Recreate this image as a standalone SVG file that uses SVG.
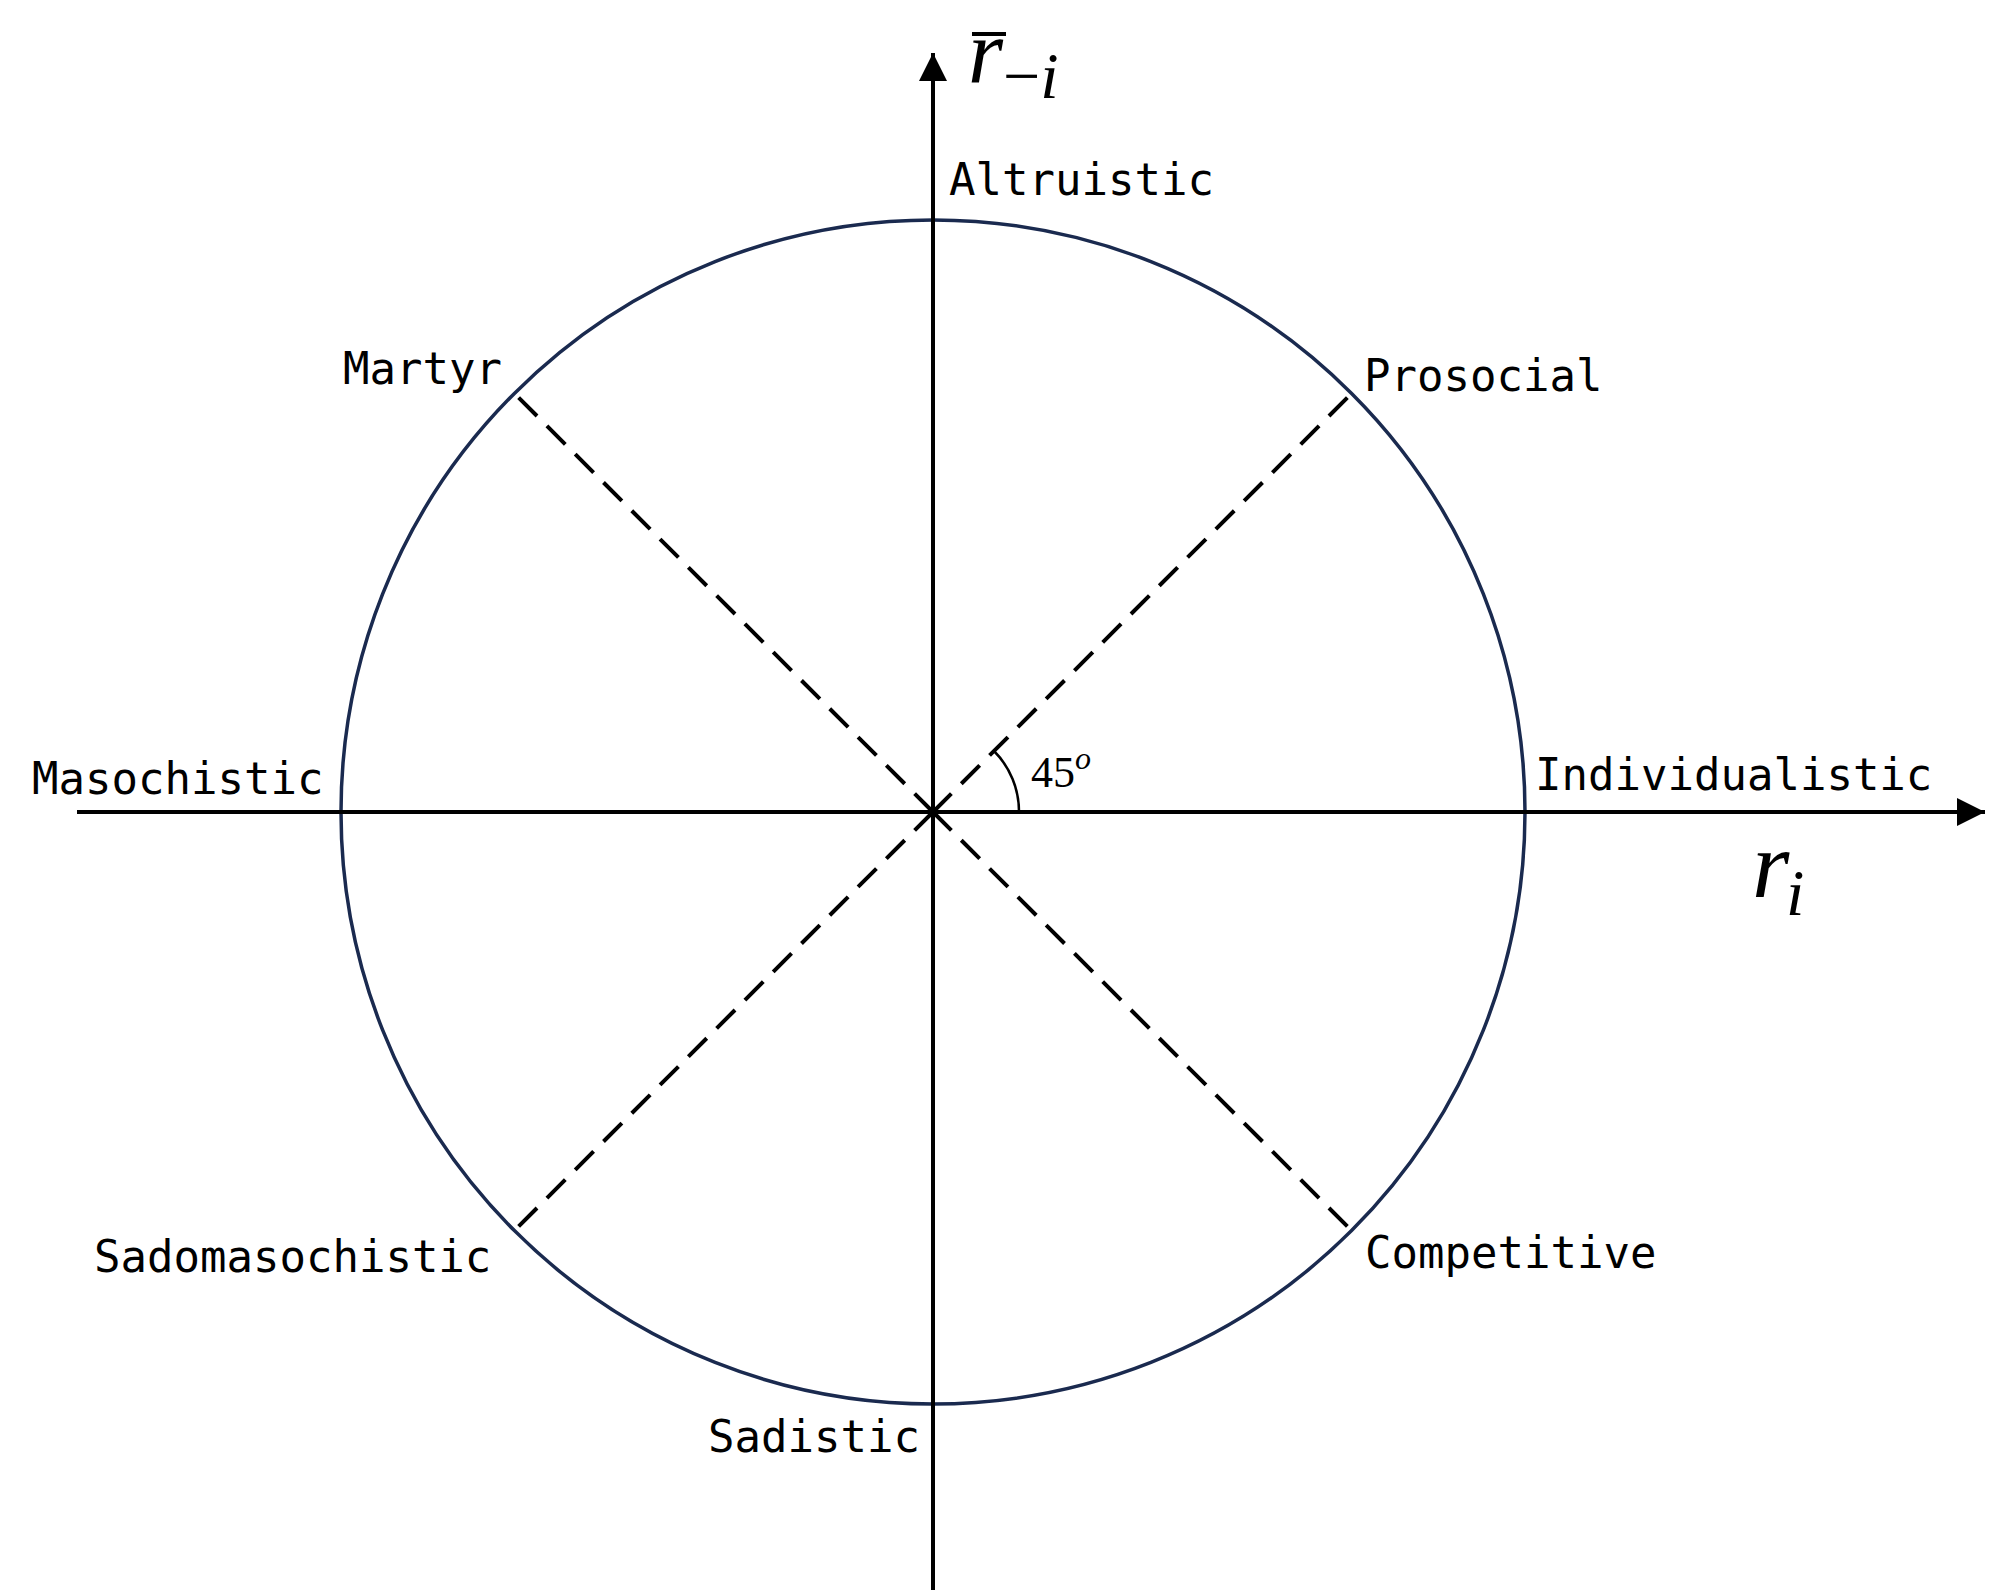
<svg xmlns="http://www.w3.org/2000/svg" width="2007" height="1590" viewBox="0 0 2007 1590">
<style>
.lbl{font-family:"DejaVu Sans Mono","Liberation Mono",monospace;font-size:44px;fill:#000}
.m{font-family:"Liberation Serif",serif;font-style:italic;fill:#000}
.ax{stroke:#000;stroke-width:4;fill:none}
.ds{stroke:#000;stroke-width:4;stroke-dasharray:26,14;fill:none}
</style>
<defs>
<marker id="a" viewBox="0 0 10 10" refX="10" refY="5" markerWidth="28" markerHeight="28" markerUnits="userSpaceOnUse" orient="auto"><path d="M0,0L10,5L0,10z" fill="#000"/></marker></defs>
<g id="circle"><circle cx="933" cy="812" r="592" fill="none" stroke="#1a2a4f" stroke-width="3.5"/></g>
<g id="connectors">
<line class="ax" x1="77" y1="812" x2="1985" y2="812" marker-end="url(#a)"/>
<line class="ax" x1="933" y1="1595" x2="933" y2="53" marker-end="url(#a)"/>
<line class="ds" x1="933" y1="812" x2="1352" y2="393"/>
<line class="ds" x1="933" y1="812" x2="514" y2="393"/>
<line class="ds" x1="933" y1="812" x2="514" y2="1231"/>
<line class="ds" x1="933" y1="812" x2="1352" y2="1231"/>
<path d="M1019,812 A86,86 0 0 0 994,751" stroke="#000" stroke-width="2.5" fill="none"/>
</g>
<g id="labels">
<text class="lbl" x="949" y="195">Altruistic</text>
<text class="lbl" x="343" y="384">Martyr</text>
<text class="lbl" x="1364" y="391">Prosocial</text>
<text class="lbl" x="32" y="794">Masochistic</text>
<text class="lbl" x="1535" y="790">Individualistic</text>
<text class="lbl" x="94" y="1272">Sadomasochistic</text>
<text class="lbl" x="1365" y="1268">Competitive</text>
<text class="lbl" x="708" y="1452">Sadistic</text>
<text x="1031" y="787" font-family="Liberation Serif,serif" font-size="44">45<tspan class="m" font-size="32" dy="-18">o</tspan></text>
<text class="m" x="968" y="82" font-size="90">r</text>
<line x1="972" y1="34" x2="1006" y2="34" stroke="#000" stroke-width="4"/>
<text class="m" x="1003" y="98" font-size="66"><tspan font-style="normal">−</tspan>i</text>
<text class="m" x="1752" y="897" font-size="96">r</text>
<text class="m" x="1786" y="915" font-size="66">i</text>
</g>
</svg>
